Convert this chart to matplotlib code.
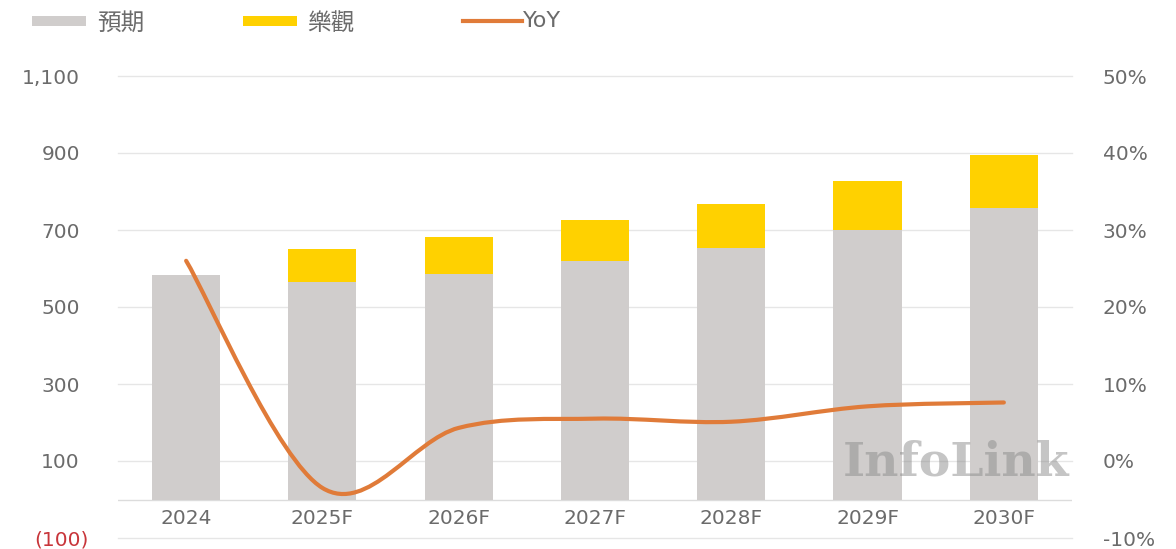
import matplotlib
matplotlib.use("Agg")
import matplotlib.pyplot as plt
import numpy as np
from matplotlib.path import Path
from matplotlib.patches import PathPatch, Rectangle
from matplotlib.lines import Line2D
from matplotlib.transforms import ScaledTranslation

plt.rcParams['font.family'] = ['DejaVu Sans', 'Noto Sans CJK TC']

years = ['2024', '2025F', '2026F', '2027F', '2028F', '2029F', '2030F']
base = [583, 565, 587, 619, 652, 700, 756]        # 預期
optimistic = [583, 651, 682, 725, 767, 827, 895]  # 樂觀 (top of stack)
yoy = [26.0, -3.5, 4.3, 5.5, 5.1, 7.1, 7.6]       # %

left_ticks = [-100, 100, 300, 500, 700, 900, 1100]
left_labels = ['(100)', '100', '300', '500', '700', '900', '1,100']
right_ticks = [-10, 0, 10, 20, 30, 40, 50]
right_labels = ['-10%', '0%', '10%', '20%', '30%', '40%', '50%']

GRAY = '#d0cdcc'
YELLOW = '#ffd100'
ORANGE = '#e07b39'
TXT = '#6b6b6b'

W, H = 1176, 549
fig = plt.figure(figsize=(W / 100, H / 100), dpi=100)
ax = fig.add_axes([118 / W, 11 / H, (1072 - 118) / W, (538 - 76) / H])
ax2 = ax.twinx()

x = np.arange(len(years))
upside = np.array(optimistic) - np.array(base)
ax.bar(x, base, width=0.5, color=GRAY, zorder=2)
ax.bar(x, upside, width=0.5, bottom=base, color=YELLOW, zorder=2)

ax.set_xlim(-0.5, 6.5)
ax.set_ylim(-100, 1100)
ax2.set_ylim(-10, 50)

ax.set_yticks(left_ticks)
ax.set_yticklabels(left_labels)
ax.yaxis.grid(True, color='#e6e6e6', lw=1)
for gl in ax.get_ygridlines():
    gl.set_clip_on(False)
ax.set_axisbelow(True)
ax.axhline(0, color='#dcdcdc', lw=1, zorder=1)
ax.set_xticks([])
for s in ax.spines.values():
    s.set_visible(False)
for s in ax2.spines.values():
    s.set_visible(False)
ax.tick_params(axis='y', length=0, pad=27.5, labelsize=14.5, labelcolor=TXT)
for lab in ax.get_yticklabels():
    if lab.get_text().startswith('('):
        lab.set_color('#c8353a')
        lab.set_transform(lab.get_transform() + ScaledTranslation(9 / 100, 0, fig.dpi_scale_trans))

ax2.set_yticks(right_ticks)
ax2.set_yticklabels(right_labels)
ax2.tick_params(axis='y', length=0, pad=22, labelsize=14.5, labelcolor=TXT)

for i, yr in enumerate(years):
    ax.text(i, -50, yr, ha='center', va='center', fontsize=14.5, color=TXT)

# smoothed YoY line (Catmull-Rom style cubic Bezier through the points)
px = x.astype(float)
py = np.array(yoy, dtype=float)
n = len(px)
verts = [(px[0], py[0])]
codes = [Path.MOVETO]
for i in range(n - 1):
    p0 = (px[max(i - 1, 0)], py[max(i - 1, 0)])
    p1 = (px[i], py[i])
    p2 = (px[i + 1], py[i + 1])
    p3 = (px[min(i + 2, n - 1)], py[min(i + 2, n - 1)])
    c1 = (p1[0] + (p2[0] - p0[0]) / 6, p1[1] + (p2[1] - p0[1]) / 6)
    c2 = (p2[0] - (p3[0] - p1[0]) / 6, p2[1] - (p3[1] - p1[1]) / 6)
    verts += [c1, c2, p2]
    codes += [Path.CURVE4] * 3
ax2.add_patch(PathPatch(Path(verts, codes), facecolor='none', edgecolor=ORANGE,
                        lw=3, capstyle='round', zorder=4))

# watermark
ax.text(0.997, 0.163, 'InfoLink', transform=ax.transAxes, ha='right', va='center',
        fontsize=34, fontweight='bold', family='DejaVu Serif', color='#8c8c8c',
        alpha=0.5, zorder=5)

# legend
cjk = ['Noto Sans CJK TC', 'DejaVu Sans']
fig.add_artist(Rectangle((32 / W, 1 - 26 / H), 54 / W, 10 / H, transform=fig.transFigure,
                         color=GRAY, lw=0))
fig.text(97 / W, 1 - 23 / H, '預期', ha='left', va='center', fontsize=17, color=TXT, family=cjk)
fig.add_artist(Rectangle((243 / W, 1 - 26 / H), 54 / W, 10 / H, transform=fig.transFigure,
                         color=YELLOW, lw=0))
fig.text(307 / W, 1 - 23 / H, '樂觀', ha='left', va='center', fontsize=17, color=TXT, family=cjk)
fig.add_artist(Line2D([463 / W, 522 / W], [1 - 21 / H, 1 - 21 / H], transform=fig.transFigure,
                      color=ORANGE, lw=3))
fig.text(523 / W, 1 - 21 / H, 'YoY', ha='left', va='center', fontsize=16, color=TXT)

fig.savefig('out.png', dpi=100)
